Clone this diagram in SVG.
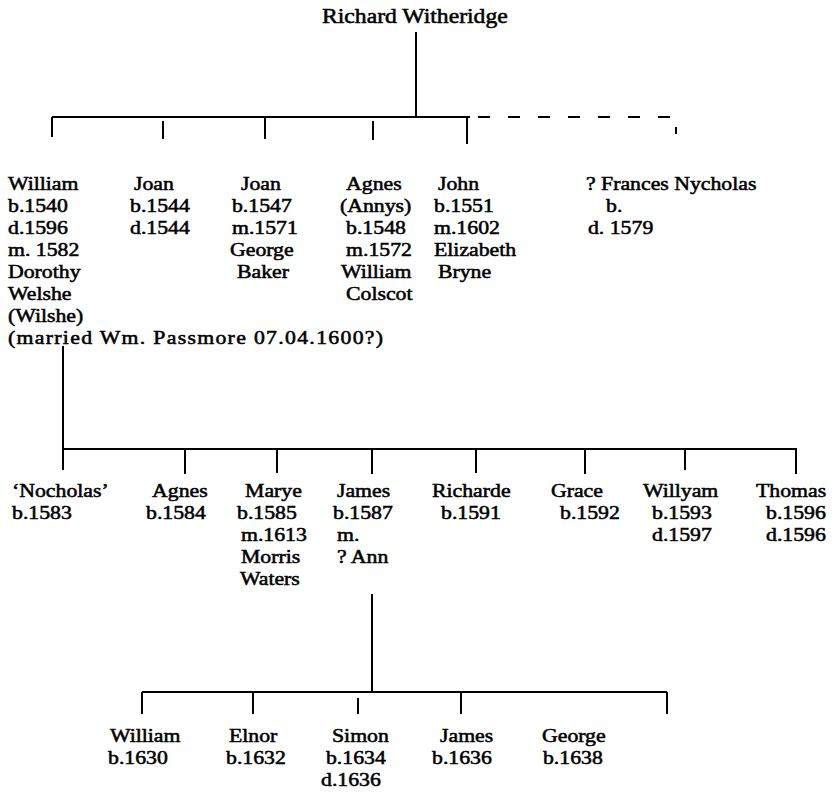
<svg xmlns="http://www.w3.org/2000/svg" width="837" height="802" viewBox="0 0 837 802">
<style>
text{font-family:"Liberation Serif","Times New Roman",serif;font-size:19.8px;fill:#000;stroke:#000;stroke-width:0.55}
.big{font-size:21.5px}
.ln{stroke:#000;stroke-width:2;fill:none}
.dash{stroke:#000;stroke-width:2;fill:none;stroke-dasharray:12 18}
</style>
<rect width="837" height="802" fill="#fff"/>
<g id="connectors">
<path class="ln" d="M416 32V117M52 117H470M52 117V137M163 121V139M265 117V139M373 121V140M467 117V144"/>
<path class="dash" d="M478 117H680"/>
<path class="ln" d="M676 127V134"/>
<path class="ln" d="M63 346V470M63 449H797M185 449V474M277 449V473M372 449V474M476 449V473M585 449V474M685 449V470M796 449V474"/>
<path class="ln" d="M372 594V692M142 692H667M142 692V714M253 692V714M358 698V714M461 692V714M667 692V714"/>
</g>
<g id="n-richard" transform="translate(322 0) scale(1.1 1)"><text class="big" x="0" y="23">Richard Witheridge</text></g>
<g id="n-william" transform="translate(8 0) scale(1.1 1)"><text x="0" y="190">William</text><text x="0" y="212">b.1540</text><text x="0" y="234">d.1596</text><text x="0" y="256">m. 1582</text><text x="0" y="278">Dorothy</text><text x="0" y="300">Welshe</text><text x="0" y="322">(Wilshe)</text><text x="0" y="344" textLength="341" lengthAdjust="spacing">(married Wm. Passmore 07.04.1600?)</text></g>
<g id="n-joan1" transform="translate(130 0) scale(1.1 1)"><text x="3.6" y="190">Joan</text><text x="0" y="212">b.1544</text><text x="0" y="234">d.1544</text></g>
<g id="n-joan2" transform="translate(230 0) scale(1.1 1)"><text x="10" y="190">Joan</text><text x="1.8" y="212">b.1547</text><text x="1.8" y="234">m.1571</text><text x="0" y="256">George</text><text x="6.4" y="278">Baker</text></g>
<g id="n-agnes1" transform="translate(340 0) scale(1.1 1)"><text x="5.5" y="190">Agnes</text><text x="0" y="212">(Annys)</text><text x="5.5" y="234">b.1548</text><text x="5.5" y="256">m.1572</text><text x="0.9" y="278">William</text><text x="5.5" y="300">Colscot</text></g>
<g id="n-john" transform="translate(434 0) scale(1.1 1)"><text x="3.6" y="190">John</text><text x="0" y="212">b.1551</text><text x="0" y="234">m.1602</text><text x="0" y="256">Elizabeth</text><text x="3.6" y="278">Bryne</text></g>
<g id="n-frances" transform="translate(586 0) scale(1.1 1)"><text x="0" y="190">? Frances Nycholas</text><text x="18.2" y="212">b.</text><text x="1.8" y="234">d. 1579</text></g>
<g id="n-nocholas" transform="translate(12 0) scale(1.1 1)"><text x="0" y="497">‘Nocholas’</text><text x="0" y="519">b.1583</text></g>
<g id="n-agnes2" transform="translate(146 0) scale(1.1 1)"><text x="5.5" y="497">Agnes</text><text x="0" y="519">b.1584</text></g>
<g id="n-marye" transform="translate(237 0) scale(1.1 1)"><text x="7.3" y="497">Marye</text><text x="0" y="519">b.1585</text><text x="3.6" y="541">m.1613</text><text x="3.6" y="563">Morris</text><text x="2.7" y="585">Waters</text></g>
<g id="n-james1" transform="translate(333 0) scale(1.1 1)"><text x="3.6" y="497">James</text><text x="0" y="519">b.1587</text><text x="3.6" y="541">m.</text><text x="3.6" y="563">? Ann</text></g>
<g id="n-richarde" transform="translate(432 0) scale(1.1 1)"><text x="0" y="497">Richarde</text><text x="8.2" y="519">b.1591</text></g>
<g id="n-grace" transform="translate(551 0) scale(1.1 1)"><text x="0" y="497">Grace</text><text x="8.2" y="519">b.1592</text></g>
<g id="n-willyam" transform="translate(643 0) scale(1.1 1)"><text x="0" y="497">Willyam</text><text x="8.2" y="519">b.1593</text><text x="8.2" y="541">d.1597</text></g>
<g id="n-thomas" transform="translate(756 0) scale(1.1 1)"><text x="0" y="497">Thomas</text><text x="9.1" y="519">b.1596</text><text x="9.1" y="541">d.1596</text></g>
<g id="n-william2" transform="translate(108 0) scale(1.1 1)"><text x="1.8" y="742">William</text><text x="0" y="764">b.1630</text></g>
<g id="n-elnor" transform="translate(226 0) scale(1.1 1)"><text x="2.7" y="742">Elnor</text><text x="0" y="764">b.1632</text></g>
<g id="n-simon" transform="translate(321 0) scale(1.1 1)"><text x="10" y="742">Simon</text><text x="4.5" y="764">b.1634</text><text x="0" y="786">d.1636</text></g>
<g id="n-james2" transform="translate(432 0) scale(1.1 1)"><text x="7.3" y="742">James</text><text x="0" y="764">b.1636</text></g>
<g id="n-george" transform="translate(542 0) scale(1.1 1)"><text x="0" y="742">George</text><text x="0.9" y="764">b.1638</text></g>
</svg>
